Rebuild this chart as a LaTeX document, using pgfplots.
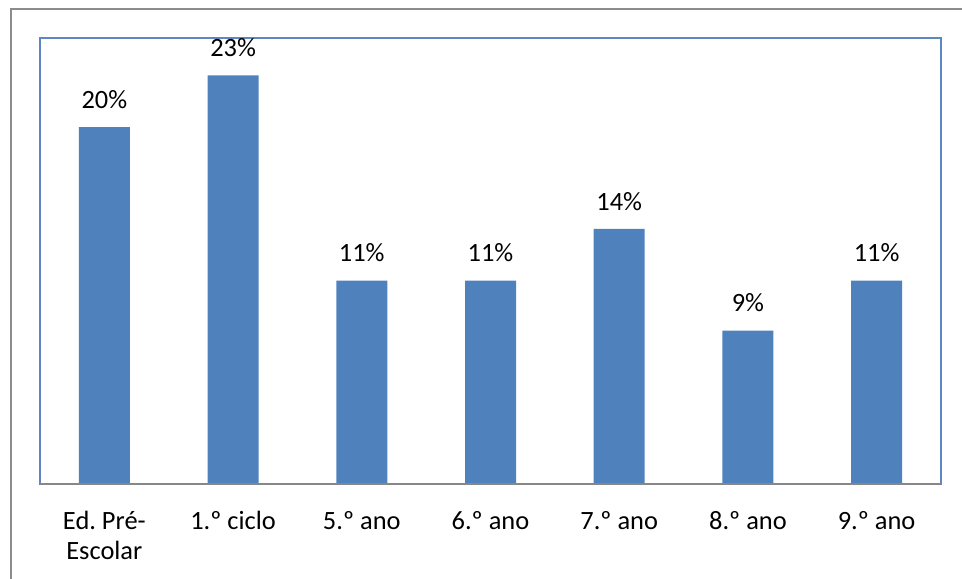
\documentclass[border=0pt]{standalone}
\usepackage{fontspec}
\setmainfont{Carlito}
\usepackage{pgfplots}
\pgfplotsset{compat=1.18}
\definecolor{barblue}{HTML}{4F81BD}
\definecolor{frameblue}{HTML}{5B87C3}
\definecolor{axgray}{HTML}{878787}
\definecolor{outergray}{HTML}{8C8C8C}
\newcommand{\lf}{\fontsize{19.8}{22.5}\selectfont}
\frenchspacing
\begin{document}
\begin{tikzpicture}
\useasboundingbox (0pt,0pt) rectangle (721.5pt,-433.5pt);
\draw[outergray, line width=1.2pt] (8.25pt,-440pt) -- (8.25pt,-6.75pt) -- (730pt,-6.75pt);
\begin{axis}[
  at={(30pt,-363pt)}, anchor=south west,
  scale only axis,
  width=675.75pt, height=334.5pt,
  xmin=-0.5, xmax=6.5, ymin=0, ymax=25,
  ytick=\empty,
  xtick={0,1,2,3,4,5,6},
  xticklabels={
    {\begin{tabular}[t]{@{}c@{}}Ed.\ Pré-\\Escolar\end{tabular}},
    {1.º ciclo}, {5.º ano}, {6.º ano}, {7.º ano}, {8.º ano}, {9.º ano}},
  major tick length=0pt,
  xticklabel style={font=\lf, anchor=base, yshift=-34pt, inner sep=0pt},
  axis line style={frameblue, line width=1.1pt},
  clip=false,
  point meta=explicit symbolic,
  nodes near coords,
  every node near coord/.append style={font=\lf, anchor=base, yshift=14pt, inner sep=0pt},
]
\addplot[ybar, bar width=38.25pt, fill=barblue, draw=none] coordinates {
  (0,20.0) [20\%]
  (1,22.9) [23\%]
  (2,11.4) [11\%]
  (3,11.4) [11\%]
  (4,14.3) [14\%]
  (5,8.6) [9\%]
  (6,11.4) [11\%]
};
\draw[axgray, line width=1.1pt] (rel axis cs:0,0) -- (rel axis cs:1,0);
\end{axis}
\end{tikzpicture}
\end{document}
